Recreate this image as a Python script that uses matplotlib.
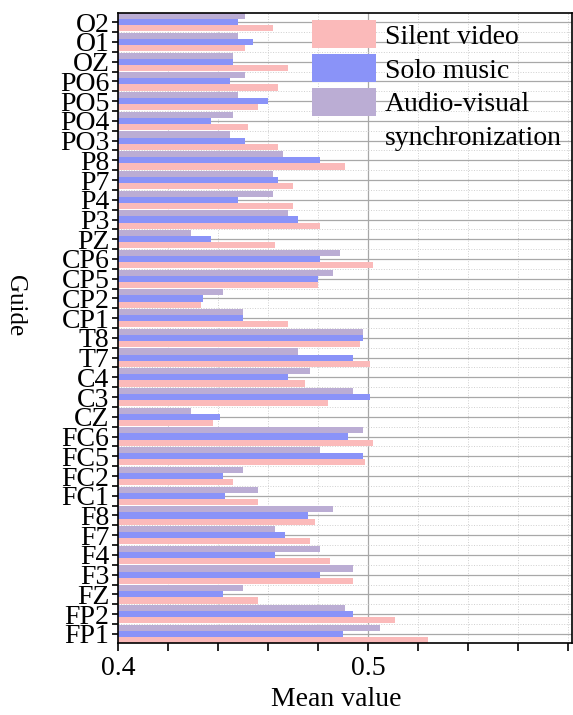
import matplotlib.pyplot as plt
import numpy as np
from matplotlib.patches import Patch
from matplotlib.ticker import MultipleLocator

plt.rcParams['font.family'] = ['Liberation Serif', 'DejaVu Serif']

#======= Donnees =======

canaux = ['FP1', 'FP2', 'FZ', 'F3', 'F4', 'F7', 'F8', 'FC1', 'FC2', 'FC5',
          'FC6', 'CZ', 'C3', 'C4', 'T7', 'T8', 'CP1', 'CP2', 'CP5', 'CP6',
          'PZ', 'P3', 'P4', 'P7', 'P8', 'PO3', 'PO4', 'PO5', 'PO6', 'OZ',
          'O1', 'O2']

silent_video = [0.524, 0.511, 0.456, 0.494, 0.485, 0.477, 0.479, 0.456, 0.446, 0.499,
                0.502, 0.438, 0.484, 0.475, 0.501, 0.497, 0.468, 0.433, 0.480, 0.502,
                0.463, 0.481, 0.470, 0.470, 0.491, 0.464, 0.452, 0.456, 0.464, 0.468,
                0.451, 0.462]
solo_music = [0.490, 0.494, 0.442, 0.481, 0.463, 0.467, 0.476, 0.443, 0.442, 0.498,
              0.492, 0.441, 0.501, 0.468, 0.494, 0.498, 0.450, 0.434, 0.480, 0.481,
              0.437, 0.472, 0.448, 0.464, 0.481, 0.451, 0.437, 0.460, 0.445, 0.446,
              0.454, 0.448]
audio_visuel = [0.505, 0.491, 0.450, 0.494, 0.481, 0.463, 0.486, 0.456, 0.450, 0.481,
                0.498, 0.429, 0.494, 0.477, 0.472, 0.498, 0.450, 0.442, 0.486, 0.489,
                0.429, 0.468, 0.462, 0.462, 0.466, 0.445, 0.446, 0.448, 0.451, 0.446,
                0.448, 0.451]

#======= Figure =======

fig = plt.figure(figsize=(5.73, 7.15), dpi=100)
ax = fig.add_axes([0.206, 0.1007, 0.792, 0.881])

y = np.arange(len(canaux))
h = 0.31
base = 0.4

c_silent = '#fbbaba'
c_solo = '#8a93f8'
c_av = '#bbadd4'

b1 = ax.barh(y - h, np.array(silent_video) - base, h, left=base, color=c_silent, zorder=2)
b2 = ax.barh(y, np.array(solo_music) - base, h, left=base, color=c_solo, zorder=2)
b3 = ax.barh(y + h, np.array(audio_visuel) - base, h, left=base, color=c_av, zorder=2)

ax.set_xlim(0.4, 0.5816)
ax.set_ylim(-1.5 * h, len(canaux) - 1 + 1.5 * h)

ax.set_yticks(y)
ax.set_yticklabels(canaux, fontsize=20)
ax.yaxis.set_minor_locator(MultipleLocator(1, offset=0.5))
ax.xaxis.set_major_locator(MultipleLocator(0.1))
ax.xaxis.set_minor_locator(MultipleLocator(0.02))
ax.tick_params(axis='x', which='both', labelsize=20, length=5.5, width=1.2, pad=4)
ax.tick_params(axis='y', which='both', length=4.3, width=1.2, pad=2)

ax.grid(True, which='major', color='#a8a8a8', lw=0.9, zorder=0)
ax.grid(True, which='minor', color='#cfcfcf', lw=0.7, ls=':', zorder=0)
ax.set_axisbelow(True)

ax.set_xlabel('Mean value', fontsize=20, va='center')
ax.xaxis.set_label_coords(0.48, -0.09)
ax.set_ylabel('Guide', fontsize=18, rotation=270, va='center', ha='center')
ax.yaxis.set_label_coords(-0.228, 0.535)

for s in ax.spines.values():
    s.set_linewidth(1.2)

vide = Patch(facecolor='none', edgecolor='none')
ax.legend([b1, b2, b3, vide],
          ['Silent video', 'Solo music', 'Audio-visual', 'synchronization'],
          loc='upper left', bbox_to_anchor=(0.427, 0.989), frameon=False, fontsize=20,
          handlelength=2.3, handleheight=1.19, labelspacing=0.16, handletextpad=0.32,
          borderpad=0, borderaxespad=0)

fig.savefig('out.png', dpi=100)
